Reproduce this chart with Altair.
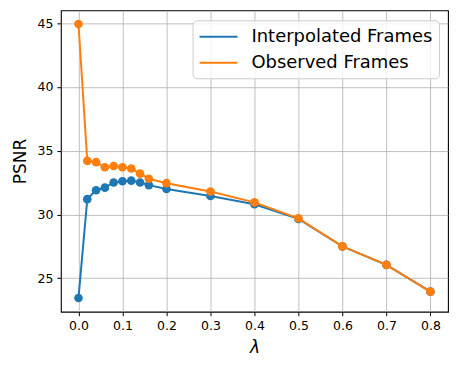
import altair as alt
import pandas as pd

lambdas = [0.0, 0.02, 0.04, 0.06, 0.08, 0.10, 0.12, 0.14, 0.16, 0.2, 0.3, 0.4, 0.5, 0.6, 0.7, 0.8]
interpolated = [23.45, 31.2, 31.9, 32.1, 32.5, 32.6, 32.65, 32.5, 32.3, 32.0, 31.45, 30.8, 29.65, 27.5, 26.05, 23.95]
observed = [44.92, 34.2, 34.1, 33.7, 33.8, 33.7, 33.6, 33.2, 32.8, 32.45, 31.8, 30.95, 29.7, 27.5, 26.05, 23.95]
series = ["Interpolated Frames", "Observed Frames"]
colors = ["#1f77b4", "#ff7f0e"]
x_ticks = [0.0, 0.1, 0.2, 0.3, 0.4, 0.5, 0.6, 0.7, 0.8]
y_ticks = [25, 30, 35, 40, 45]

rows = []
for s, vals in zip(series, [interpolated, observed]):
    for lam, v in zip(lambdas, vals):
        rows.append({"lambda": lam, "PSNR": v, "series": s})
df = pd.DataFrame(rows)

x = alt.X("lambda:Q", title="λ",
          scale=alt.Scale(domain=[-0.04, 0.84], nice=False, zero=False),
          axis=alt.Axis(values=x_ticks, format=".1f", titleFontStyle="italic"))
y = alt.Y("PSNR:Q", title="PSNR",
          scale=alt.Scale(domain=[22.38, 45.99], nice=False, zero=False),
          axis=alt.Axis(values=y_ticks))
legend = alt.Legend(title=None, orient="none", legendX=132, legendY=10,
                    symbolType="M-1,0H3", symbolSize=361, symbolStrokeWidth=2,
                    labelFontSize=18, labelFont="DejaVu Sans", labelOffset=32,
                    labelLimit=0,
                    rowPadding=6, padding=6, fillColor="rgba(255,255,255,0.8)",
                    strokeColor="#cccccc", cornerRadius=4, labelColor="black")
color_line = alt.Color("series:N", scale=alt.Scale(domain=series, range=colors), legend=legend)
color_pt = alt.Color("series:N", scale=alt.Scale(domain=series, range=colors), legend=None)

layers = []
for s in series:
    base = alt.Chart(df).transform_filter(alt.datum.series == s)
    layers.append(base.mark_line(strokeWidth=2).encode(x=x, y=y, color=color_line))
    layers.append(base.mark_circle(size=75, opacity=1).encode(x=x, y=y, color=color_pt))

chart = alt.layer(*layers).properties(
    width=388, height=302,
    autosize=alt.AutoSizeParams(type="none"),
    padding={"left": 53, "top": 2, "right": 2, "bottom": 45},
).configure_view(stroke="black", strokeWidth=1.1).configure_axis(
    domain=False, grid=True, gridColor="#b0b0b0", gridWidth=0.8,
    tickColor="black", tickSize=4, tickWidth=1,
    labelFont="DejaVu Sans", labelFontSize=12.5, labelColor="black", labelPadding=4,
    titleFont="DejaVu Sans", titleFontSize=17, titleFontWeight="normal", titleColor="black",
).configure_axisY(titlePadding=8).configure_axisX(titlePadding=7)

chart.save("out.html", embed_options={"renderer": "svg", "actions": False})
